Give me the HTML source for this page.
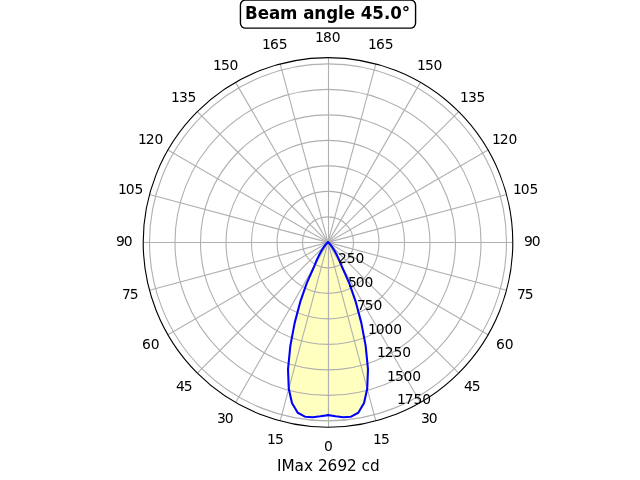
<!DOCTYPE html>
<html lang="en">
<head>
<meta charset="utf-8">
<title>Beam angle 45.0°</title>
<style>
html,body{margin:0;padding:0;background:#fff;width:640px;height:480px;overflow:hidden}
svg{display:block}
text{font-family:"DejaVu Sans","Liberation Sans",sans-serif;fill:#000}
.t{font-size:13.889px}
.g{fill:none;stroke:#b0b0b0;stroke-width:1.111}
.y{fill:#ff0;fill-opacity:.25;stroke:#ff0;stroke-opacity:.25;stroke-width:1.389;stroke-linejoin:round}
.b{fill:none;stroke:#00f;stroke-width:2.083;stroke-linejoin:round;stroke-linecap:square}
</style>
</head>
<body>
<svg width="640" height="480" viewBox="0 0 640 480">
<rect width="640" height="480" fill="#fff"/>
<defs><clipPath id="c"><circle cx="328" cy="242.4" r="184.8"/></clipPath></defs>
<g clip-path="url(#c)">
<path class="y" d="M328 415.1 L335.59 416.28 L343.3 417.23 L351.04 416.68 L358.28 412.73 L364.03 403.06 L367.21 388.74 L367.99 369.24 L365.67 345.91 L361.33 322.87 L355.77 301.94 L349.43 283.56 L341.75 266.22 L339.07 259.77 L336.89 255.1 L334.82 251.29 L333.14 248.53 L331.92 246.68 L330.97 245.37 L330.21 244.43 L329.69 243.81 L328.98 243.09 L328.43 242.65 L328 242.4Z"/>
<path class="y" d="M328 415.1 L320.41 416.28 L312.7 417.23 L304.96 416.68 L297.72 412.73 L291.97 403.06 L288.79 388.74 L288.01 369.24 L290.33 345.91 L294.67 322.87 L300.23 301.94 L306.57 283.56 L314.25 266.22 L316.93 259.77 L319.11 255.1 L321.18 251.29 L322.86 248.53 L324.08 246.68 L325.03 245.37 L325.79 244.43 L326.31 243.81 L327.02 243.09 L327.57 242.65 L328 242.4Z"/>
<g class="g">
<line x1="328.5" y1="242.4" x2="328.5" y2="427.2"/>
<line x1="328" y1="242.4" x2="375.83" y2="420.9"/>
<line x1="328" y1="242.4" x2="420.4" y2="402.44"/>
<line x1="328" y1="242.4" x2="458.67" y2="373.07"/>
<line x1="328" y1="242.4" x2="488.04" y2="334.8"/>
<line x1="328" y1="242.4" x2="506.5" y2="290.23"/>
<line x1="328" y1="242.5" x2="512.8" y2="242.5"/>
<line x1="328" y1="242.4" x2="506.5" y2="194.57"/>
<line x1="328" y1="242.4" x2="488.04" y2="150"/>
<line x1="328" y1="242.4" x2="458.67" y2="111.73"/>
<line x1="328" y1="242.4" x2="420.4" y2="82.36"/>
<line x1="328" y1="242.4" x2="375.83" y2="63.9"/>
<line x1="328.5" y1="242.4" x2="328.5" y2="57.6"/>
<line x1="328" y1="242.4" x2="280.17" y2="63.9"/>
<line x1="328" y1="242.4" x2="235.6" y2="82.36"/>
<line x1="328" y1="242.4" x2="197.33" y2="111.73"/>
<line x1="328" y1="242.4" x2="167.96" y2="150"/>
<line x1="328" y1="242.4" x2="149.5" y2="194.57"/>
<line x1="328" y1="242.5" x2="143.2" y2="242.5"/>
<line x1="328" y1="242.4" x2="149.5" y2="290.23"/>
<line x1="328" y1="242.4" x2="167.96" y2="334.8"/>
<line x1="328" y1="242.4" x2="197.33" y2="373.07"/>
<line x1="328" y1="242.4" x2="235.6" y2="402.44"/>
<line x1="328" y1="242.4" x2="280.17" y2="420.9"/>
<circle cx="328" cy="242.4" r="25.5"/>
<circle cx="328" cy="242.4" r="51"/>
<circle cx="328" cy="242.4" r="76.5"/>
<circle cx="328" cy="242.4" r="102"/>
<circle cx="328" cy="242.4" r="127.5"/>
<circle cx="328" cy="242.4" r="153"/>
<circle cx="328" cy="242.4" r="178.5"/>
</g>
<path class="b" d="M328 415.1 L335.59 416.28 L343.3 417.23 L351.04 416.68 L358.28 412.73 L364.03 403.06 L367.21 388.74 L367.99 369.24 L365.67 345.91 L361.33 322.87 L355.77 301.94 L349.43 283.56 L341.75 266.22 L339.07 259.77 L336.89 255.1 L334.82 251.29 L333.14 248.53 L331.92 246.68 L330.97 245.37 L330.21 244.43 L329.69 243.81 L328.98 243.09 L328.43 242.65 L328 242.4"/>
<path class="b" d="M328 415.1 L320.41 416.28 L312.7 417.23 L304.96 416.68 L297.72 412.73 L291.97 403.06 L288.79 388.74 L288.01 369.24 L290.33 345.91 L294.67 322.87 L300.23 301.94 L306.57 283.56 L314.25 266.22 L316.93 259.77 L319.11 255.1 L321.18 251.29 L322.86 248.53 L324.08 246.68 L325.03 245.37 L325.79 244.43 L326.31 243.81 L327.02 243.09 L327.57 242.65 L328 242.4"/>
</g>
<circle cx="328" cy="242.4" r="184.8" fill="none" stroke="#000" stroke-width="1.111"/>
<g class="t">
<text x="323.88" y="450.98">0</text>
<text x="373.05 380.92" y="443.52">15</text>
<text x="421.12 428.87" y="423.11">30</text>
<text x="463.92 471.67" y="390.66">45</text>
<text x="496.07 504.69" y="348.85">60</text>
<text x="517.03 524.78" y="299.09">75</text>
<text x="523.93 531.81" y="246.23">90</text>
<text x="513.1 520.72 529.47" y="193.87">105</text>
<text x="491.94 499.82 508.57" y="144.11">120</text>
<text x="459.99 468.11 476.61" y="101.81">135</text>
<text x="416.93 425.06 433.56" y="69.85">150</text>
<text x="368.11 375.99 384.86" y="48.95">165</text>
<text x="315 322.88 331.75" y="41.99">180</text>
<text x="261.89 270.01 278.64" y="48.95">165</text>
<text x="212.94 221.07 229.57" y="69.85">150</text>
<text x="170.89 179.01 187.51" y="101.81">135</text>
<text x="137.93 145.81 154.56" y="144.11">120</text>
<text x="118.03 125.65 134.4" y="193.87">105</text>
<text x="115.94 123.82" y="246.23">90</text>
<text x="121.97 129.72" y="299.09">75</text>
<text x="142.06 150.68" y="348.85">60</text>
<text x="176.08 183.83" y="390.66">45</text>
<text x="216.88 224.63" y="423.11">30</text>
<text x="267.08 274.95" y="443.52">15</text>
<text x="338.01 346.76 355.51" y="263.07">250</text>
<text x="348.02 355.77 364.52" y="286.63">500</text>
<text x="357.02 364.77 373.52" y="310.19">750</text>
<text x="368.03 375.66 384.41 393.16" y="333.75">1000</text>
<text x="377.04 384.67 393.42 402.17" y="357.3">1250</text>
<text x="387.05 394.92 403.42 412.17" y="380.86">1500</text>
<text x="397.06 404.68 413.43 422.18" y="404.42">1750</text>
</g>
<text x="276.88 281.38 294.5 303.88 312.62 318 327.38 337.38 346.88 356.25 361.38 369.88" y="470.53" font-size="15.278">IMax 2692 cd</text>
<rect x="240.43" y="0.1" width="175.14" height="28" rx="5" ry="5" fill="#fff" stroke="#000" stroke-width="1.389"/>
<text x="244.94 257.81 268.94 280.06 297.94 303.19 314.31 326.31 337.94 343.81 355.44 360.69 372.31 384.06 390.19 401.69" y="18.61" font-size="16.667" font-weight="bold" transform="matrix(1 0 0 1.07 0 -1.3)">Beam angle 45.0°</text>
</svg>
</body>
</html>
